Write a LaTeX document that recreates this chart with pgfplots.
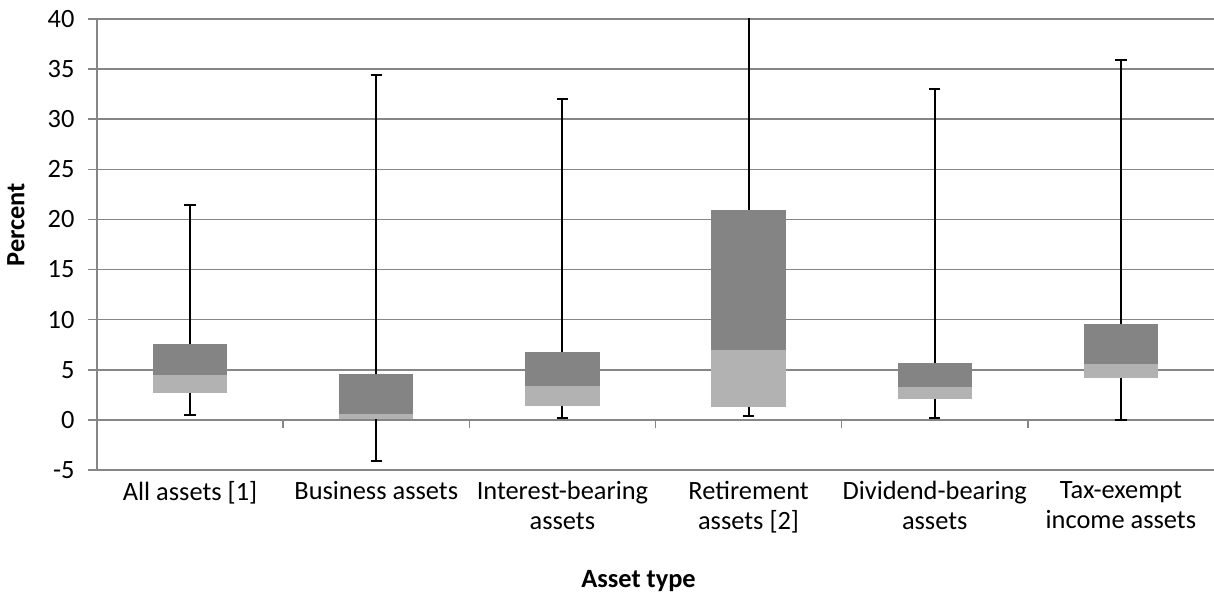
\documentclass[border=0pt]{standalone}
\usepackage{fontspec}
\setmainfont{Carlito}
\usepackage{pgfplots}
\pgfplotsset{compat=1.18}
\usepgfplotslibrary{statistics}
\definecolor{darkbox}{HTML}{848484}
\definecolor{lightbox}{HTML}{B2B2B2}
\definecolor{gridgray}{HTML}{868686}
% #1 position, #2 min, #3 Q1, #4 median, #5 Q3, #6 max
\newcommand\mybox[6]{%
  \addplot[boxplot/draw direction=y,
    boxplot prepared={draw position=#1, lower whisker=#2, lower quartile=#3,
      median=#4, upper quartile=#5, upper whisker=#6, box extend=0.4, whisker extend=0.06},
    draw=none,
    boxplot/every box/.style={draw=none, fill=darkbox},
    boxplot/every whisker/.style={draw=black, line width=1.9bp},
    boxplot/every median/.style={draw=none}] coordinates {};
  \addplot[boxplot/draw direction=y,
    boxplot prepared={draw position=#1, lower whisker=#3, lower quartile=#3,
      median=#3, upper quartile=#4, upper whisker=#4, box extend=0.4, whisker extend=0.06},
    draw=none,
    boxplot/every box/.style={draw=none, fill=lightbox},
    boxplot/every whisker/.style={draw=none},
    boxplot/every median/.style={draw=none}] coordinates {};
}
\begin{document}
\begin{tikzpicture}
\begin{axis}[
  scale only axis,
  width=1117bp, height=451bp,
  xmin=0.5, xmax=6.5, ymin=-5, ymax=40,
  axis lines*=left,
  axis line style={draw=gridgray, line width=1.6bp},
  ymajorgrids, grid style={draw=gridgray, line width=1.6bp},
  ytick={-5,0,5,...,40},
  ytick style={draw=gridgray, line width=1.6bp},
  major tick length=9bp, tick align=outside,
  xtick={1,...,6},
  xtick style={draw=none},
  xticklabels={All assets [1], Business assets, Interest-bearing\\assets, Retirement\\assets [2], Dividend-bearing\\assets, Tax-exempt\\income assets},
  /pgf/number format/assume math mode=true,
  tick label style={font=\fontsize{26.5}{30}\selectfont},
  xticklabel style={align=center, anchor=north, yshift=1bp},
  yticklabel style={xshift=-10bp},
  xlabel={\textbf{Asset type}},
  ylabel={\textbf{Percent}},
  label style={font=\fontsize{26.5}{30}\selectfont},
  xlabel style={at={(axis description cs:0.4848,0)}, anchor=base, yshift=-117bp},
  ylabel style={at={(axis description cs:-0.0727,0.544)}, anchor=center},
  clip=true,
]
\addplot[ycomb, draw=gridgray, line width=1.6bp, mark=none] coordinates {(1.5,-0.8) (2.5,-0.8) (3.5,-0.8) (4.5,-0.8) (5.5,-0.8)};
\mybox{1}{0.48}{2.66}{4.52}{7.54}{21.4}
\mybox{2}{-4.1}{0.05}{0.55}{4.6}{34.4}
\mybox{3}{0.15}{1.4}{3.42}{6.8}{32.0}
\mybox{4}{0.4}{1.3}{7.0}{20.95}{50}
\mybox{5}{0.2}{2.05}{3.3}{5.7}{33.0}
\mybox{6}{0}{4.2}{5.6}{9.6}{35.9}
\end{axis}
\pgfresetboundingbox
\path[use as bounding box] ([shift={(-97bp,-126bp)}]current axis.south west) rectangle ([shift={(0bp,19bp)}]current axis.north east);
\end{tikzpicture}
\end{document}
